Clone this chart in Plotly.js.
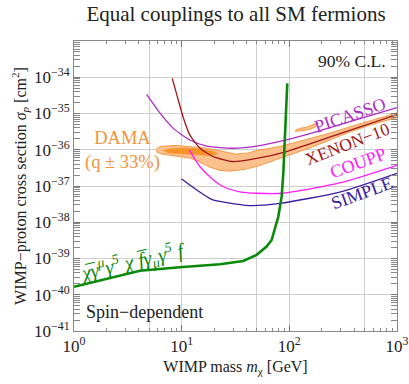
<!DOCTYPE html>
<html><head><meta charset="utf-8">
<script src="https://cdn.plot.ly/plotly-3.0.1.min.js"></script>
<style>body{margin:0;background:#fff}#plot{width:409px;height:384px}</style>
</head><body><div id="plot"></div>
<script>
// ---- data (mass in GeV, cross section in cm^2) ----
const greenMass = [1, 4.1, 9.6, 22.7, 37.3, 49.7, 61.5, 68.5, 78.9, 84.8, 87.9, 91.2, 95.7];
const greenSigma = [1.66e-40, 4.57e-40, 5.75e-40, 6.92e-40, 8.51e-40, 1.26e-39, 2.14e-39, 3.24e-39, 1.41e-38, 5.0e-38, 2.24e-37, 1.86e-36, 6.76e-35];

const picassoMass = [4.73, 6.3, 8.36, 11.9, 17.1, 30.2, 49.7, 94, 167, 400, 1000];
const picassoSigma = [3.39e-35, 1.02e-35, 3.89e-36, 1.86e-36, 1.26e-36, 1.10e-36, 1.26e-36, 1.86e-36, 2.95e-36, 6.46e-36, 1.45e-35];

const xenonMass = [8.18, 9.3, 10.4, 11.9, 14.8, 19.7, 30.1, 49.7, 94.3, 300, 1000];
const xenonSigma = [9.33e-35, 2.34e-35, 7.41e-36, 2.57e-36, 1.10e-36, 6.46e-37, 4.68e-37, 5.75e-37, 8.91e-37, 2.82e-36, 9.33e-36];

const couppMass = [11.8, 14.8, 19, 24.4, 34.8, 49.7, 88, 300, 1000];
const couppSigma = [9.77e-37, 3.39e-37, 1.62e-37, 9.55e-38, 6.92e-38, 6.31e-38, 6.31e-38, 1.23e-37, 3.72e-37];

const simpleMass = [10, 13.8, 19, 26.2, 43, 81.8, 300, 1000];
const simpleSigma = [1.55e-37, 7.76e-38, 4.27e-38, 3.47e-38, 2.88e-38, 3.31e-38, 6.92e-38, 2.24e-37];

// DAMA outer region (top edge left->right, then bottom edge right->left)
const damaOuterMass = [5.77, 6.29, 8.67, 11.9, 16.5, 22.7, 31.3, 41.3, 51.1, 63.3, 81.8, 101, 155, 238, 365, 560, 1000,
                       1000, 560, 365, 238, 155, 101, 73.5, 51.1, 38.7, 28.1, 22.7, 18.3, 14.8, 11.9, 8.67, 6.56, 5.77];
const damaOuterSigma = [1.02e-36, 1.23e-36, 1.32e-36, 1.23e-36, 1.12e-36, 9.33e-37, 7.59e-37, 8.13e-37, 9.77e-37, 1.07e-36, 1.23e-36, 1.45e-36, 2.0e-36, 2.88e-36, 4.27e-36, 6.17e-36, 1.05e-35,
                        7.76e-36, 4.79e-36, 3.09e-36, 1.86e-36, 1.12e-36, 7.24e-37, 5.25e-37, 3.55e-37, 2.88e-37, 2.57e-37, 2.69e-37, 3.31e-37, 4.57e-37, 5.89e-37, 6.76e-37, 7.59e-37, 8.91e-37];
// DAMA inner (darker) region
const damaInnerMass = [6.70, 7.79, 10.7, 14.8, 19.1, 21.7, 18.3, 13.3, 9.64, 7.46];
const damaInnerSigma = [9.55e-37, 1.07e-36, 1.12e-36, 1.05e-36, 9.33e-37, 7.59e-37, 6.92e-37, 7.41e-37, 7.94e-37, 8.13e-37];
// DAMA small island at high mass
const damaIslandMass = [113, 125, 145, 167, 184, 177, 155, 125, 113];
const damaIslandSigma = [3.39e-36, 3.89e-36, 4.17e-36, 5.01e-36, 5.62e-36, 4.37e-36, 3.63e-36, 3.31e-36, 3.24e-36];

// ticks
const xTickVals = [1, 10, 100, 1000];
const xTickText = ['10<sup>0</sup>', '10<sup>1</sup>', '10<sup>2</sup>', '10<sup>3</sup>'];
const xExtraGrid = [5, 50, 500];
const yTickVals = [1e-41, 1e-40, 1e-39, 1e-38, 1e-37, 1e-36, 1e-35, 1e-34];
const yTickText = ['10<sup>−41</sup>', '10<sup>−40</sup>', '10<sup>−39</sup>', '10<sup>−38</sup>', '10<sup>−37</sup>', '10<sup>−36</sup>', '10<sup>−35</sup>', '10<sup>−34</sup>'];
const minorMultipliers = [2, 3, 4, 5, 6, 7, 8, 9];
const xDecades = [1, 10, 100];
const yDecades = [1e-41, 1e-40, 1e-39, 1e-38, 1e-37, 1e-36, 1e-35, 1e-34];

const xMinor = [];
xDecades.forEach(d => minorMultipliers.forEach(k => xMinor.push(d * k)));
const yMinor = [];
yDecades.forEach(d => minorMultipliers.forEach(k => yMinor.push(d * k)));

const FONT = 'Liberation Serif, Times New Roman, serif';
const C = {
  damaFill: '#fcc08c', damaLine: '#f59a4a', damaInner: '#f7922a',
  picasso: '#ad2ec4', xenon: '#a01616', coupp: '#ff1aff', simple: '#3b1c9e', green: '#0a8a0a'
};

const traces = [
  {x: damaOuterMass, y: damaOuterSigma, type: 'scatter', mode: 'lines', fill: 'toself',
   fillcolor: C.damaFill, line: {color: C.damaLine, width: 1}, hoverinfo: 'skip'},
  {x: damaIslandMass, y: damaIslandSigma, type: 'scatter', mode: 'lines', fill: 'toself',
   fillcolor: C.damaFill, line: {color: C.damaLine, width: 1}, hoverinfo: 'skip'},
  {x: damaInnerMass, y: damaInnerSigma, type: 'scatter', mode: 'lines', fill: 'toself',
   fillcolor: C.damaInner, line: {color: C.damaInner, width: 0.5}, hoverinfo: 'skip'},
  {x: picassoMass, y: picassoSigma, type: 'scatter', mode: 'lines', line: {color: C.picasso, width: 1.3, shape: 'spline', smoothing: 0.6}},
  {x: xenonMass, y: xenonSigma, type: 'scatter', mode: 'lines', line: {color: C.xenon, width: 1.3, shape: 'spline', smoothing: 0.6}},
  {x: couppMass, y: couppSigma, type: 'scatter', mode: 'lines', line: {color: C.coupp, width: 1.3, shape: 'spline', smoothing: 0.6}},
  {x: simpleMass, y: simpleSigma, type: 'scatter', mode: 'lines', line: {color: C.simple, width: 1.3, shape: 'spline', smoothing: 0.6}},
  {x: greenMass, y: greenSigma, type: 'scatter', mode: 'lines', line: {color: C.green, width: 2.6}},
  // invisible trace to anchor the overlay axis that carries extra grid lines
  {x: [1, 1000], y: [1e-41, 1e-33], xaxis: 'x2', type: 'scatter', mode: 'none', hoverinfo: 'skip', showlegend: false}
];

function ann(text, x, y, color, size, angle) {
  return {text: text, xref: 'paper', yref: 'paper', x: x, y: y, xanchor: 'center', yanchor: 'middle',
          showarrow: false, textangle: angle || 0, font: {family: FONT, size: size, color: color}};
}

const layout = {
  width: 409, height: 384,
  margin: {l: 74, r: 12, t: 41, b: 53},
  paper_bgcolor: '#fff', plot_bgcolor: '#fff',
  showlegend: false,
  font: {family: FONT, size: 16, color: '#222'},
  title: {text: 'Equal couplings to all SM fermions', font: {family: FONT, size: 21, color: '#222'},
          x: 0.577, xanchor: 'center', xref: 'container', y: 0.965, yref: 'container', yanchor: 'middle'},
  xaxis: {type: 'log', range: [0, 3], tickvals: xTickVals, ticktext: xTickText,
          showgrid: true, gridcolor: '#cfcfcf', gridwidth: 1, zeroline: false,
          ticks: 'inside', ticklen: 6, tickcolor: '#777', showline: true, linecolor: '#888', linewidth: 1, mirror: 'allticks',
          minor: {tickmode: 'array', tickvals: xMinor, ticks: 'inside', ticklen: 3, tickcolor: '#888', showgrid: false},
          tickfont: {family: FONT, size: 17, color: '#222'},
          title: {text: 'WIMP mass <i>m</i><sub>χ</sub> [GeV]', font: {family: FONT, size: 16, color: '#222'}, standoff: 5}},
  xaxis2: {type: 'log', range: [0, 3], overlaying: 'x', tickvals: xExtraGrid, showticklabels: false, ticks: '',
           showgrid: true, gridcolor: '#cfcfcf', gridwidth: 1, showline: false, zeroline: false},
  yaxis: {type: 'log', range: [-41, -33], tickvals: yTickVals, ticktext: yTickText,
          showgrid: true, gridcolor: '#cfcfcf', gridwidth: 1, zeroline: false,
          ticks: 'inside', ticklen: 6, tickcolor: '#777', showline: true, linecolor: '#888', linewidth: 1, mirror: 'allticks',
          minor: {tickmode: 'array', tickvals: yMinor, ticks: 'inside', ticklen: 3, tickcolor: '#888', showgrid: false},
          tickfont: {family: FONT, size: 17, color: '#222'},
          title: {text: 'WIMP−proton cross section <i>σ</i><sub><i>p</i></sub> [cm<sup>2</sup>]', font: {family: FONT, size: 16, color: '#222'}, standoff: 3}},
  annotations: [
    ann('90% C.L.', 0.861, 0.931, '#222', 17.5, 0),
    ann('PICASSO', 0.856, 0.745, C.picasso, 18, -19),
    ann('XENON−10', 0.846, 0.645, C.xenon, 17.5, -21),
    ann('COUPP', 0.879, 0.579, C.coupp, 18, -20),
    ann('SIMPLE', 0.892, 0.476, C.simple, 18, -20),
    ann('DAMA<br>(q ± 33%)', 0.149, 0.622, '#f49338', 18.5, 0),
    ann('Spin−dependent', 0.217, 0.066, '#222', 18, 0),
    ann('<i>χ̅γ<sup>μ</sup>γ<sup>5</sup> χ f̅γ<sub>μ</sub>γ<sup>5</sup> f</i>', 0.182, 0.238, C.green, 20, -13)
  ]
};

Plotly.newPlot('plot', traces, layout, {staticPlot: true, displayModeBar: false});
</script></body></html>
